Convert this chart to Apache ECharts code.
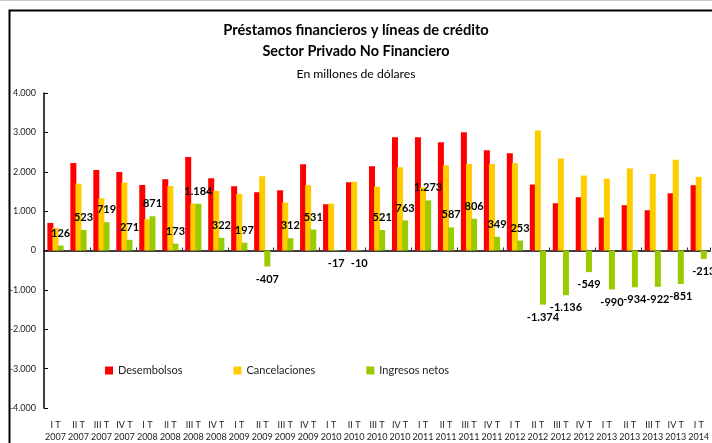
<!DOCTYPE html>
<html>
<head>
<meta charset="utf-8">
<script src="https://cdn.jsdelivr.net/npm/echarts@6/dist/echarts.min.js"></script>
<style>
html,body{margin:0;padding:0;background:#fff;overflow:hidden;}
#chart{width:712px;height:443px;}
</style>
</head>
<body>
<div id="chart"></div>
<script>
const quarters = ["I T","II T","III T","IV T","I T","II T","III T","IV T","I T","II T","III T","IV T","I T","II T","III T","IV T","I T","II T","III T","IV T","I T","II T","III T","IV T","I T","II T","III T","IV T","I T"];
const years = ["2007","2007","2007","2007","2008","2008","2008","2008","2009","2009","2009","2009","2010","2010","2010","2010","2011","2011","2011","2011","2012","2012","2012","2012","2013","2013","2013","2013","2014"];
const desembolsos = [700,2220,2046,1995,1665,1810,2376,1835,1632,1480,1530,2190,1175,1734,2140,2876,2876,2749,3003,2546,2470,1675,1200,1353,835,1150,1023,1454,1658];
const cancelaciones = [574,1697,1327,1724,794,1637,1192,1513,1435,1887,1218,1659,1192,1744,1619,2113,1603,2162,2197,2197,2217,3049,2336,1902,1825,2084,1945,2305,1870];
const ingresosNetos = [126,523,719,271,871,173,1184,322,197,-407,312,531,-17,-10,521,763,1273,587,806,349,253,-1374,-1136,-549,-990,-934,-922,-851,-213];
const yTicks = {min:-4000, max:4000, interval:1000};

const categories = quarters.map((q,i)=> q + "\n" + years[i]);
function fmt(v){
  const s = v < 0 ? "-" : "";
  const a = String(Math.abs(Math.round(v)));
  return s + a.replace(/\B(?=(\d{3})+(?!\d))/g, ".");
}
const FONT = "Lato, 'Open Sans', sans-serif";

const chart = echarts.init(document.getElementById('chart'), null, {renderer:'canvas'});
chart.setOption({
  animation:false,
  backgroundColor:'#fff',
  textStyle:{fontFamily:FONT},
  title:[
    {text:'Préstamos financieros y líneas de crédito', left:'center', top:17,
     textStyle:{fontFamily:FONT, fontSize:14.7, fontWeight:'bold', color:'#000', lineHeight:17}},
    {text:'Sector Privado No Financiero', left:'center', top:38,
     textStyle:{fontFamily:FONT, fontSize:14.4, fontWeight:'bold', color:'#000', lineHeight:17}},
    {text:'En millones de dólares', left:'center', top:62,
     textStyle:{fontFamily:FONT, fontSize:12.2, fontWeight:'normal', color:'#000', lineHeight:15}}
  ],
  graphic:[
    {type:'line', shape:{x1:0,y1:0.5,x2:712,y2:0.5}, style:{stroke:'#c8c8c8', lineWidth:1}, silent:true},
    {type:'rect', shape:{x:9.5,y:10.5,width:1000,height:1000}, style:{stroke:'#000', lineWidth:2, fill:null}, silent:true}
  ],
  legend:{
    left:100, top:360, itemWidth:8, itemHeight:8, itemGap:51, icon:'rect',
    textStyle:{fontFamily:FONT, fontSize:11, color:'#222'},
    data:['Desembolsos','Cancelaciones','Ingresos netos']
  },
  grid:{left:44, right:-6, top:93, bottom:35, containLabel:false},
  xAxis:[
    {type:'category', data:categories, position:'bottom',
     axisLine:{show:false, onZero:false}, axisTick:{show:false},
     axisLabel:{interval:0, fontFamily:FONT, fontSize:9, lineHeight:12, color:'#222', margin:11}},
    {type:'category', data:categories, position:'top',
     axisLine:{show:true, onZero:true, lineStyle:{color:'#000', width:1.5}},
     axisTick:{show:true, inside:false, length:3, lineStyle:{color:'#333'}},
     axisLabel:{show:false}, splitLine:{show:false}}
  ],
  yAxis:{
    type:'value', min:yTicks.min, max:yTicks.max, interval:yTicks.interval,
    axisLine:{show:true, lineStyle:{color:'#000', width:1.5}},
    axisTick:{show:true, inside:true, length:4, lineStyle:{color:'#000'}},
    splitLine:{show:false},
    axisLabel:{fontFamily:FONT, fontSize:9, color:'#222', margin:8, formatter:v=>fmt(v)}
  },
  series:[
    {name:'Desembolsos', type:'bar', xAxisIndex:0, data:desembolsos, barWidth:6, barGap:'-15%',
     itemStyle:{color:'#FF0000'}},
    {name:'Cancelaciones', type:'bar', xAxisIndex:0, data:cancelaciones, barWidth:6, barGap:'-15%',
     itemStyle:{color:'#FFCC00'}},
    {name:'Ingresos netos', type:'bar', xAxisIndex:0, barWidth:6, barGap:'-15%',
     itemStyle:{color:'#99CC00'},
     data:ingresosNetos.map(v=>({value:v, label:{position: v<0 ? 'bottom' : 'top'}})),
     label:{show:true, distance:7, fontFamily:FONT, fontSize:11, fontWeight:'bold', color:'#000',
            formatter:p=>fmt(p.value)}}
  ]
});
</script>
</body>
</html>
